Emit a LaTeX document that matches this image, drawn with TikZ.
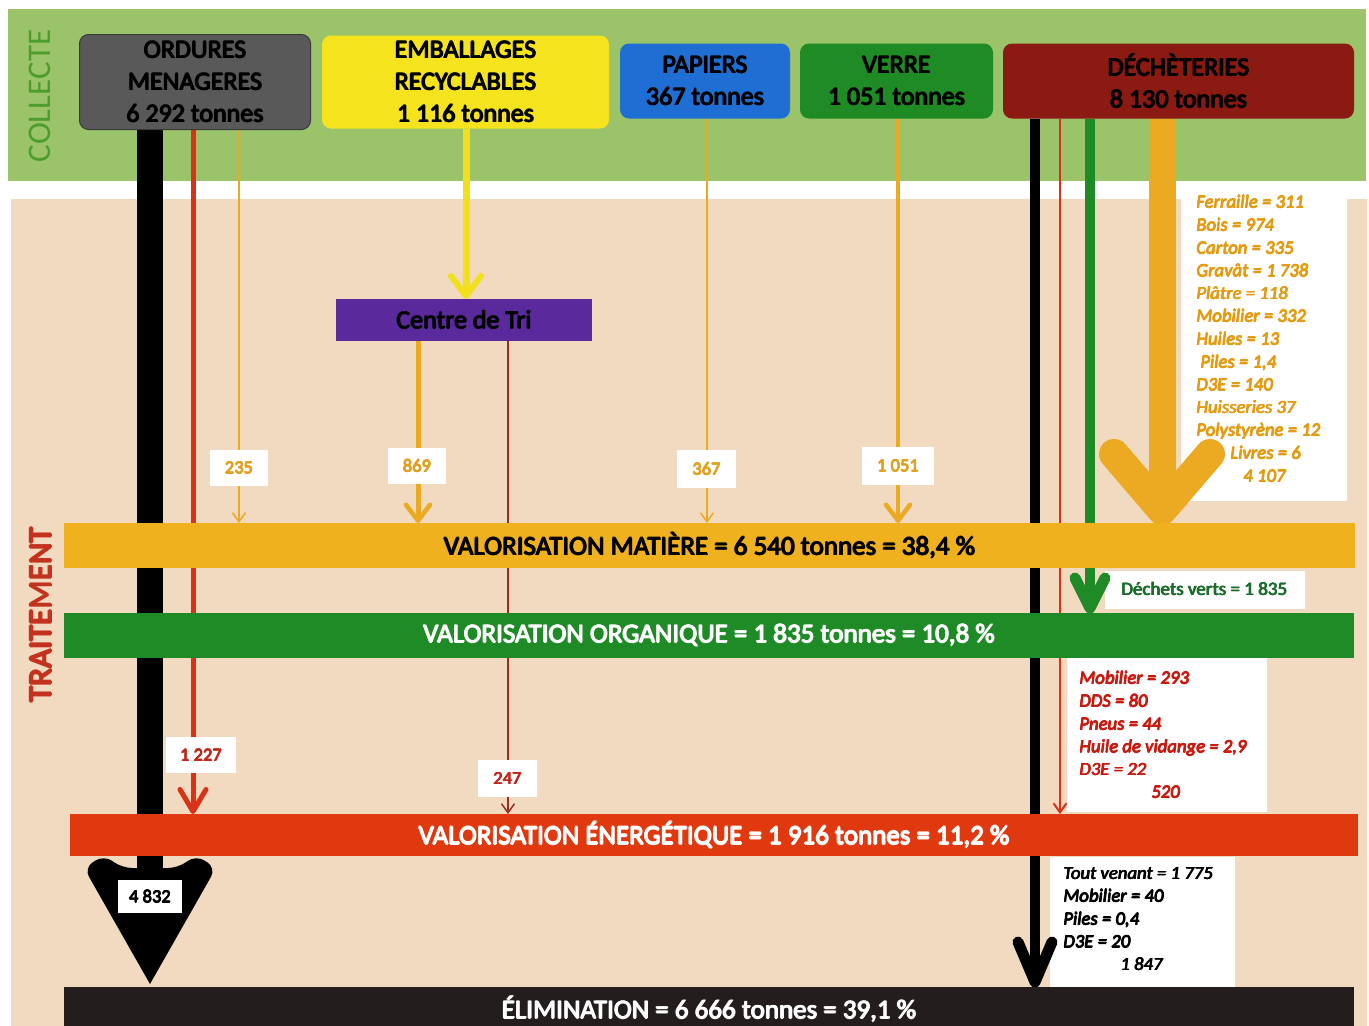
\documentclass[tikz,border=0pt]{standalone}
\usepackage{fontspec}
\setmainfont{Carlito}
\newcommand\heavy[1]{\leavevmode\rlap{#1}\rlap{\kern0.05em#1}\rlap{\kern0.025em\raisebox{0.022em}{#1}}\kern0.025em\raisebox{-0.018em}{#1}\kern0.025em}
\usetikzlibrary{arrows.meta,calc}
\pgfdeclarelayer{back}
\pgfdeclarelayer{lines}
\pgfsetlayers{back,lines,main}
\definecolor{bandgreen}{HTML}{9BC46A}
\definecolor{beige}{HTML}{F1DABF}
\definecolor{collgreen}{HTML}{4E9C2E}
\definecolor{traitred}{HTML}{C2321E}
\definecolor{omgray}{HTML}{595959}
\definecolor{omdark}{HTML}{3A3A3A}
\definecolor{embyellow}{HTML}{F5E31E}
\definecolor{papblue}{HTML}{1F6ED4}
\definecolor{verregreen}{HTML}{1F8B24}
\definecolor{decred}{HTML}{8B1A12}
\definecolor{tripurple}{HTML}{5A2A9C}
\definecolor{matorange}{HTML}{F0B11E}
\definecolor{orggreen}{HTML}{1E8B26}
\definecolor{enerred}{HTML}{E1390F}
\definecolor{elimdark}{HTML}{231D1D}
\definecolor{numorange}{HTML}{E0A020}
\definecolor{numred}{HTML}{C0281C}
\definecolor{listorange}{HTML}{E39B12}
\definecolor{listred}{HTML}{C81A10}
\definecolor{dgreen}{HTML}{1A6E2A}
\definecolor{orline}{HTML}{EBAA22}
\definecolor{yell}{HTML}{F2E01A}
\definecolor{redline}{HTML}{D83218}
\definecolor{dkred}{HTML}{9A3024}
\begin{document}
\begin{tikzpicture}[x=1pt,y=-1pt,
  every node/.style={inner sep=0pt,outer sep=0pt},
  topbox/.style={rounded corners=9pt, align=center, font=\fontsize{26}{32}\selectfont, text=black},
  barbox/.style={font=\fontsize{27}{28}\selectfont},
  numbox/.style={fill=white, font=\fontsize{18.5}{20}\selectfont},
  listtext/.style={anchor=north west, align=left, font=\itshape\fontsize{18.7}{22.8}\selectfont},
  whitebox/.style={fill=white, anchor=north west},
  thinarr/.style={-{Straight Barb[length=9pt,width=13pt]}},
  medarr/.style={-{Straight Barb[length=16pt,width=24pt,line width=4.5pt,round]}},
  redarr/.style={-{Straight Barb[length=22pt,width=26pt,line width=5pt,round]}},
  pics/chev/.style n args={3}{code={\draw[line width=#3pt, line cap=round, line join=round] (-#1,-#2) -- (0,0) -- (#1,-#2);}}
]
\useasboundingbox (0,0) rectangle (1369,1026);
\begin{pgfonlayer}{back}
\fill[white] (0,0) rectangle (1369,1026);
\fill[bandgreen] (8,9) rectangle (1366,181);
\fill[beige] (11,199) rectangle (1367,1026);
\node[whitebox, minimum width=166pt, minimum height=318pt] (obox) at (1181,183) {};
\node[whitebox, minimum width=200pt, minimum height=38pt] (gbox) at (1105,571) {};
\node[whitebox, minimum width=200pt, minimum height=154pt] (rbox) at (1067,658) {};
\node[whitebox, minimum width=185pt, minimum height=130pt] (bbox) at (1050,857) {};
\end{pgfonlayer}

\coordinate (xA) at (150,0);
\coordinate (xB) at (193,0);
\coordinate (xC) at (239,0);
\coordinate (xD) at (466,0);
\coordinate (xE) at (418,0);
\coordinate (xF) at (508,0);
\coordinate (xG) at (707,0);
\coordinate (xH) at (898,0);
\coordinate (xI) at (1035,0);
\coordinate (xJ) at (1060,0);
\coordinate (xK) at (1090,0);
\coordinate (xL) at (1162,0);

\node[rotate=90, text=collgreen, font=\fontsize{33}{33}\selectfont] (collecte) at (40,96) {COLLECTE};
\node[rotate=90, text=traitred, font=\fontsize{33}{33}\selectfont] (traitement) at (41,615) {\heavy{TRAITEMENT}};

\node[topbox, fill=omgray, draw=omdark, line width=1pt, minimum width=231pt, minimum height=95pt] (om) at (195,82) {\heavy{ORDURES}\\\heavy{MENAGERES}\\\heavy{6 292 tonnes}};
\node[topbox, fill=embyellow, minimum width=287pt, minimum height=93pt] (emb) at (465.5,82) {\heavy{EMBALLAGES}\\\heavy{RECYCLABLES}\\\heavy{1 116 tonnes}};
\node[topbox, fill=papblue, minimum width=170pt, minimum height=75pt] (pap) at (705,81) {\heavy{PAPIERS}\\\heavy{367 tonnes}};
\node[topbox, fill=verregreen, minimum width=193pt, minimum height=75pt] (verre) at (896.5,81) {\heavy{VERRE}\\\heavy{1 051 tonnes}};
\node[topbox, fill=decred, minimum width=351pt, minimum height=75pt] (dec) at (1178.5,81) {\heavy{DÉCHÈTERIES}\\\heavy{8 130 tonnes}};

\node[fill=tripurple, minimum width=256pt, minimum height=42pt, font=\fontsize{26}{28}\selectfont] (tri) at (464,320) {\heavy{Centre de Tri}};

\node[barbox, fill=matorange, minimum width=1291pt, minimum height=45pt] (mat) at (709.5,545.5) {\heavy{VALORISATION MATIÈRE = 6 540 tonnes = 38,4 \%}};
\node[barbox, fill=orggreen, text=white, minimum width=1290pt, minimum height=45pt] (org) at (709,635.5) {\heavy{VALORISATION ORGANIQUE = 1 835 tonnes = 10,8 \%}};
\node[barbox, fill=enerred, text=white, minimum width=1288pt, minimum height=42pt] (ener) at (714,835) {\heavy{VALORISATION ÉNERGÉTIQUE = 1 916 tonnes = 11,2 \%}};
\node[barbox, fill=elimdark, text=white, minimum width=1290pt, minimum height=44pt] (elim) at (709,1009) {\heavy{ÉLIMINATION = 6 666 tonnes = 39,1 \%}};

\node[numbox, text=numorange, minimum width=58pt, minimum height=36pt] (n235) at (239,468) {\heavy{235}};
\node[numbox, text=numorange, minimum width=58pt, minimum height=36pt] (n869) at (417,466) {\heavy{869}};
\node[numbox, text=numorange, minimum width=59pt, minimum height=38pt] (n367) at (706.5,469) {\heavy{367}};
\node[numbox, text=numorange, minimum width=72pt, minimum height=38pt] (n1051) at (898,466) {\heavy{1 051}};
\node[numbox, text=numred, minimum width=70pt, minimum height=36pt] (n1227) at (201,755) {\heavy{1 227}};
\node[numbox, text=numred, minimum width=59pt, minimum height=37pt] (n247) at (507.5,778.5) {\heavy{247}};

\node[listtext, text=listorange] (otext) at (1196,195) {\heavy{Ferraille = 311}\\\heavy{Bois = 974}\\\heavy{Carton = 335}\\\heavy{Gravât = 1 738}\\\heavy{Plâtre = 118}\\\heavy{Mobilier = 332}\\\heavy{Huiles = 13}\\\hspace*{4pt}\heavy{Piles = 1,4}\\\heavy{D3E = 140}\\\heavy{Huisseries 37}\\\heavy{Polystyrène = 12}\\\hspace*{34pt}\heavy{Livres = 6}\\\hspace*{47pt}\heavy{4 107}};
\node[anchor=west, text=dgreen, font=\fontsize{19}{20}\selectfont] (gtext) at (1121,589) {\heavy{Déchets verts = 1 835}};
\node[listtext, text=listred] (rtext) at (1079,671) {\heavy{Mobilier = 293}\\\heavy{DDS = 80}\\\heavy{Pneus = 44}\\\heavy{Huile de vidange = 2,9}\\\heavy{D3E = 22}\\\hspace*{72pt}\heavy{520}};
\node[listtext, text=black] (btext) at (1063,867) {\heavy{Tout venant = 1 775}\\\heavy{Mobilier = 40}\\\heavy{Piles = 0,4}\\\heavy{D3E = 20}\\\hspace*{57pt}\heavy{1 847}};

\begin{pgfonlayer}{lines}
\draw[line width=26pt, black] (om.south -| xA) -- ($(elim.north -| xA)+(0,-100)$);
\fill[black, rounded corners=10pt] ($(elim.north -| xA)+(0,-3)$) -- ++(-66,-116) -- ++(20,-13) -- ++(18,13) -- ++(56,0) -- ++(18,-13) -- ++(20,13) [sharp corners] -- cycle;
\draw[line width=5pt, redline, redarr] (om.south -| xB) -- (ener.north -| xB);
\draw[line width=1.5pt, orline, thinarr] (om.south -| xC) -- (mat.north -| xC);
\draw[line width=7pt, yell, -{Straight Barb[length=20pt,width=30pt,line width=6pt,round]}] (emb.south -| xD) -- (tri.north -| xD);
\draw[line width=5pt, orline, medarr] (tri.south -| xE) -- (mat.north -| xE);
\draw[line width=1.5pt, dkred, thinarr] (tri.south -| xF) -- (ener.north -| xF);
\draw[line width=1.5pt, orline, thinarr] (pap.south -| xG) -- (mat.north -| xG);
\draw[line width=4pt, orline, medarr] (verre.south -| xH) -- (mat.north -| xH);
\draw[line width=10pt, black] (dec.south -| xI) -- ($(elim.north -| xI)+(0,-8)$);
\pic[color=black] at ($(elim.north -| xI)+(0,-5)$) {chev={17}{40}{11}};
\draw[line width=2pt, redline, thinarr] (dec.south -| xJ) -- (ener.north -| xJ);
\draw[line width=10pt, orggreen] (dec.south -| xK) -- ($(org.north -| xK)+(0,-8)$);
\pic[color=orggreen] at ($(org.north -| xK)+(0,-5)$) {chev={15}{30}{11}};
\draw[line width=27pt, orline] (dec.south -| xL) -- ($(mat.north -| xL)+(0,-20)$);
\pic[color=orline] at ($(mat.north -| xL)+(0,-13)$) {chev={48}{56}{30}};
\end{pgfonlayer}
\node[numbox, text=black, minimum width=64pt, minimum height=33pt] (n4832) at (150,896.5) {\heavy{4 832}};
\end{tikzpicture}
\end{document}
